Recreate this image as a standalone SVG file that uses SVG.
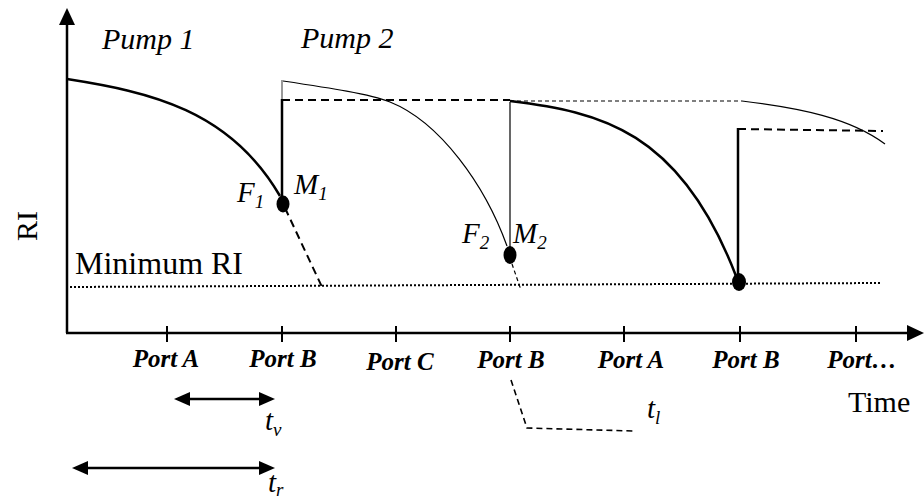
<svg xmlns="http://www.w3.org/2000/svg" width="924" height="501" viewBox="0 0 924 501">
<style>
.t{font-family:"Liberation Serif","DejaVu Serif","Times New Roman",Times,serif;fill:#000}
.it{font-style:italic}
.port{font-family:"Liberation Serif","DejaVu Serif","Times New Roman",Times,serif;font-style:italic;font-weight:bold;font-size:25px;text-anchor:middle}
.ax{stroke:#000;stroke-width:2.5;fill:none}
.tick{stroke:#000;stroke-width:2}
.thick{stroke:#000;stroke-width:2.5;fill:none}
.thin{stroke:#000;stroke-width:1.2;fill:none}
.dash{stroke:#000;stroke-width:2;fill:none;stroke-dasharray:8 5}
.fdash{stroke:#000;stroke-width:1.2;fill:none;stroke-dasharray:4 3}
.dot{stroke:#000;stroke-width:2;fill:none;stroke-dasharray:2 2}
</style>
<rect width="924" height="501" fill="#fff"/>
<g id="axes">
<line class="ax" x1="67" y1="333" x2="67" y2="22"/>
<polygon points="67,8 59,25 75,25" fill="#000"/>
<line class="ax" x1="66" y1="333" x2="910" y2="333"/>
<polygon points="924,333 907,325 907,341" fill="#000"/>
<line class="tick" x1="167" y1="326" x2="167" y2="342"/>
<line class="tick" x1="282" y1="326" x2="282" y2="342"/>
<line class="tick" x1="396" y1="326" x2="396" y2="342"/>
<line class="tick" x1="510" y1="326" x2="510" y2="342"/>
<line class="tick" x1="624" y1="326" x2="624" y2="342"/>
<line class="tick" x1="740" y1="326" x2="740" y2="342"/>
<line class="tick" x1="856" y1="326" x2="856" y2="342"/>
<text class="t" font-size="30" transform="translate(37,226) rotate(-90)" text-anchor="middle">RI</text>
<text class="t" font-size="30" x="848" y="412">Time</text>
</g>
<g id="ports">
<text class="port" x="166" y="367">Port A</text>
<text class="port" x="283" y="367">Port B</text>
<text class="port" x="400" y="370">Port C</text>
<text class="port" x="511" y="368">Port B</text>
<text class="port" x="631" y="368">Port A</text>
<text class="port" x="746" y="368">Port B</text>
<text class="port" x="862" y="368">Port…</text>
</g>
<g id="minimum-ri">
<line class="dot" x1="70" y1="287" x2="880" y2="283"/>
<text class="t" font-size="32" x="75" y="274">Minimum RI</text>
</g>
<g id="pump1">
<text class="t it" font-size="30" x="102" y="49">Pump 1</text>
<path class="thick" d="M67,79 C150,92 230,110 280,196"/>
<path class="dash" d="M285,208 L322,287"/>
</g>
<g id="pump2">
<text class="t it" font-size="30" x="301" y="48">Pump 2</text>
<path class="thin" d="M283,81 C330,88 370,94 390,102 C440,122 485,185 507,246"/>
<path class="fdash" d="M512,264 L521,290"/>
</g>
<g id="pump3">
<path class="thick" d="M510,101 C600,112 680,130 736,276"/>
</g>
<g id="pump4">
<path class="thin" d="M742,101 C800,108 850,118 885,144"/>
</g>
<g id="switch1">
<line x1="282" y1="80" x2="282" y2="100" stroke="#777" stroke-width="1.5"/>
<line class="thick" x1="282" y1="99" x2="282" y2="200"/>
<path class="dash" d="M282,100 L510,100"/>
<path class="fdash" d="M510,101 L742,101"/>
<ellipse cx="283" cy="204" rx="6.5" ry="8.5" fill="#000"/>
<text class="t it" font-size="29" x="237" y="202">F<tspan font-size="19" dy="6">1</tspan></text>
<text class="t it" font-size="29" x="294" y="194">M<tspan font-size="19" dy="6">1</tspan></text>
</g>
<g id="switch2">
<line class="thin" x1="510" y1="102" x2="510" y2="250"/>
<ellipse cx="510" cy="255" rx="6.5" ry="9" fill="#000"/>
<text class="t it" font-size="29" x="462" y="243">F<tspan font-size="19" dy="6">2</tspan></text>
<text class="t it" font-size="29" x="513" y="243">M<tspan font-size="19" dy="6">2</tspan></text>
</g>
<g id="switch3">
<line class="thick" x1="738" y1="128" x2="738" y2="280"/>
<path class="dash" d="M738,129 L883,131"/>
<ellipse cx="739" cy="282" rx="7" ry="9" fill="#000"/>
</g>
<g id="connectors">
<line stroke="#000" stroke-width="2.5" x1="186" y1="399" x2="263" y2="399"/>
<polygon points="174,399 190,392 190,406" fill="#000"/>
<polygon points="275,399 259,392 259,406" fill="#000"/>
<line stroke="#000" stroke-width="2.5" x1="84" y1="468" x2="263" y2="468"/>
<polygon points="72,468 88,461 88,475" fill="#000"/>
<polygon points="275,468 259,461 259,475" fill="#000"/>
<path d="M511,380 L527,428 L633,431" stroke="#000" stroke-width="1.6" fill="none" stroke-dasharray="6 4"/>
</g>
<g id="labels">
<text class="t it" font-size="29" x="265" y="430">t<tspan font-size="19" dy="6">v</tspan></text>
<text class="t it" font-size="29" x="268" y="492">t<tspan font-size="19" dy="4">r</tspan></text>
<text class="t it" font-size="29" x="647" y="418">t<tspan font-size="19" dy="6">l</tspan></text>
</g>
</svg>
